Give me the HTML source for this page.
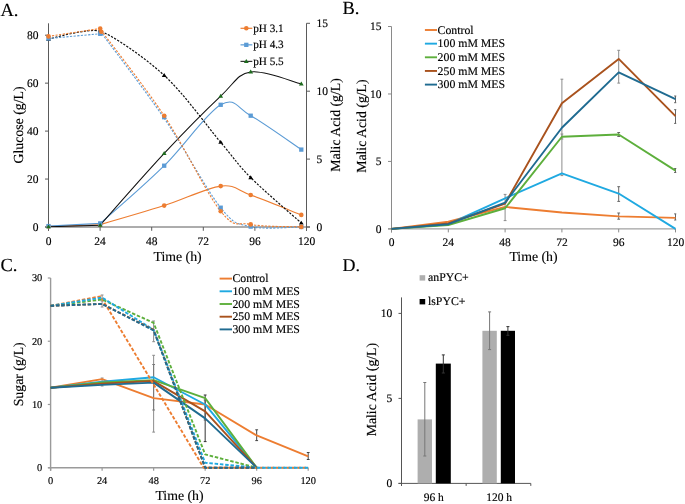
<!DOCTYPE html>
<html><head><meta charset="utf-8"><style>
html,body{margin:0;padding:0;background:#fff;width:685px;height:504px;overflow:hidden}
svg{display:block;font-family:"Liberation Serif", serif;will-change:transform;text-rendering:geometricPrecision}
text{stroke:#000;stroke-width:0.15px}
</style></head><body>
<svg width="685" height="504" viewBox="0 0 685 504">
<rect width="685" height="504" fill="#fff"/>
<text x="0.5" y="16.1" font-size="18.5" text-anchor="start" fill="#000" >A.</text>
<line x1="48.5" y1="23.3" x2="48.5" y2="230.8" stroke="#5a5a5a" stroke-width="1" />
<line x1="45" y1="227" x2="310" y2="227" stroke="#5a5a5a" stroke-width="1" />
<line x1="306.5" y1="23.3" x2="306.5" y2="230.8" stroke="#5a5a5a" stroke-width="1" />
<line x1="45" y1="227" x2="48.5" y2="227" stroke="#5a5a5a" stroke-width="1" />
<text x="38.4" y="230.9" font-size="11.5" text-anchor="end" fill="#000" >0</text>
<line x1="45" y1="179.05" x2="48.5" y2="179.05" stroke="#5a5a5a" stroke-width="1" />
<text x="38.4" y="182.95" font-size="11.5" text-anchor="end" fill="#000" >20</text>
<line x1="45" y1="131.1" x2="48.5" y2="131.1" stroke="#5a5a5a" stroke-width="1" />
<text x="38.4" y="135" font-size="11.5" text-anchor="end" fill="#000" >40</text>
<line x1="45" y1="83.15" x2="48.5" y2="83.15" stroke="#5a5a5a" stroke-width="1" />
<text x="38.4" y="87.05" font-size="11.5" text-anchor="end" fill="#000" >60</text>
<line x1="45" y1="35.2" x2="48.5" y2="35.2" stroke="#5a5a5a" stroke-width="1" />
<text x="38.4" y="39.1" font-size="11.5" text-anchor="end" fill="#000" >80</text>
<line x1="306.5" y1="227" x2="310" y2="227" stroke="#5a5a5a" stroke-width="1" />
<text x="316.4" y="230.7" font-size="11.5" text-anchor="start" fill="#000" >0</text>
<line x1="306.5" y1="159.1" x2="310" y2="159.1" stroke="#5a5a5a" stroke-width="1" />
<text x="316.4" y="162.8" font-size="11.5" text-anchor="start" fill="#000" >5</text>
<line x1="306.5" y1="91.2" x2="310" y2="91.2" stroke="#5a5a5a" stroke-width="1" />
<text x="316.4" y="94.9" font-size="11.5" text-anchor="start" fill="#000" >10</text>
<line x1="306.5" y1="23.3" x2="310" y2="23.3" stroke="#5a5a5a" stroke-width="1" />
<text x="316.4" y="27" font-size="11.5" text-anchor="start" fill="#000" >15</text>
<line x1="48.5" y1="227" x2="48.5" y2="230.8" stroke="#5a5a5a" stroke-width="1" />
<text x="48.5" y="244.5" font-size="11.5" text-anchor="middle" fill="#000" >0</text>
<line x1="100.1" y1="227" x2="100.1" y2="230.8" stroke="#5a5a5a" stroke-width="1" />
<text x="100.1" y="244.5" font-size="11.5" text-anchor="middle" fill="#000" >24</text>
<line x1="151.7" y1="227" x2="151.7" y2="230.8" stroke="#5a5a5a" stroke-width="1" />
<text x="151.7" y="244.5" font-size="11.5" text-anchor="middle" fill="#000" >48</text>
<line x1="203.3" y1="227" x2="203.3" y2="230.8" stroke="#5a5a5a" stroke-width="1" />
<text x="203.3" y="244.5" font-size="11.5" text-anchor="middle" fill="#000" >72</text>
<line x1="254.9" y1="227" x2="254.9" y2="230.8" stroke="#5a5a5a" stroke-width="1" />
<text x="254.9" y="244.5" font-size="11.5" text-anchor="middle" fill="#000" >96</text>
<line x1="306.5" y1="227" x2="306.5" y2="230.8" stroke="#5a5a5a" stroke-width="1" />
<text x="306.5" y="244.5" font-size="11.5" text-anchor="middle" fill="#000" >120</text>
<text x="177.6" y="261" font-size="13.8" text-anchor="middle" fill="#000" >Time (h)</text>
<text transform="translate(22.7,125) rotate(-90)" x="0" y="0" font-size="13.8" text-anchor="middle" fill="#000">Glucose (g/L)</text>
<text transform="translate(339.8,124.9) rotate(-90)" x="0" y="0" font-size="13.8" text-anchor="middle" fill="#000">Malic Acid (g/L)</text>
<clipPath id="ca"><rect x="48.5" y="23" width="258" height="204"/></clipPath>
<path d="M48.5,226.5 C48.5,226.5 100.2,224.6 100.2,224.6 C100.2,224.6 144.12,212.02 164.2,205.6 C184.28,199.18 206.28,187.87 220.7,186.1 C235.12,184.33 237.27,190.2 250.7,195 C264.13,199.8 292.87,211.58 301.3,214.9" fill="none" stroke="#ED7D31" stroke-width="1.1"  clip-path="url(#ca)"/>
<path d="M48.5,226.1 C48.5,226.1 100.2,223.4 100.2,223.4 C100.2,223.4 144.12,185.47 164.2,165.7 C184.28,145.93 206.28,113.13 220.7,104.8 C235.12,96.47 237.27,108.23 250.7,115.7 C264.13,123.17 292.87,143.95 301.3,149.6" fill="none" stroke="#5B9BD5" stroke-width="1.1"  clip-path="url(#ca)"/>
<path d="M48.5,226.8 C48.5,226.8 100.2,225.2 100.2,225.2 C100.2,225.2 144.12,174.92 164.2,153.4 C184.28,131.88 206.28,109.68 220.7,96.1 C235.12,82.52 237.27,73.93 250.7,71.9 C264.13,69.87 292.87,81.9 301.3,83.9" fill="none" stroke="#111" stroke-width="1.05"  clip-path="url(#ca)"/>
<path d="M48.5,39.2 C48.5,39.2 88.63,27.58 100.2,31.2 C111.77,34.82 144.12,56.88 164.2,75.4 C184.28,93.92 206.28,125.27 220.7,142.3 C235.12,159.33 237.27,164.15 250.7,177.6 C264.13,191.05 292.87,215.43 301.3,223" fill="none" stroke="#111" stroke-width="1.2" stroke-dasharray="2.2,1.4" />
<path d="M48.5,38.5 C48.5,38.5 101.8,33.6 101.8,33.6 C101.8,33.6 144.38,89.28 164.2,118.3 C184.02,147.32 206.28,189.65 220.7,207.7 C235.12,225.75 237.27,223.38 250.7,226.6 C264.13,229.82 292.87,226.93 301.3,227" fill="none" stroke="#5B9BD5" stroke-width="1.1" stroke-dasharray="2.2,1.4" />
<path d="M48.5,36.4 C48.5,36.4 99.8,28.6 99.8,28.6 C99.8,28.6 101.6,31.3 101.6,31.3 C101.6,31.3 144.25,85.7 164.1,115.7 C183.95,145.7 206.27,193.18 220.7,211.3 C235.13,229.42 237.27,221.8 250.7,224.4 C264.13,227 292.87,226.48 301.3,226.9" fill="none" stroke="#ED7D31" stroke-width="1.1" stroke-dasharray="2.2,1.4" />
<circle cx="48.5" cy="226.5" r="2.3" fill="#ED7D31"/>
<circle cx="100.2" cy="224.6" r="2.3" fill="#ED7D31"/>
<circle cx="164.2" cy="205.6" r="2.3" fill="#ED7D31"/>
<circle cx="220.7" cy="186.1" r="2.3" fill="#ED7D31"/>
<circle cx="250.7" cy="195" r="2.3" fill="#ED7D31"/>
<circle cx="301.3" cy="214.9" r="2.3" fill="#ED7D31"/>
<rect x="46.35" y="223.95" width="4.3" height="4.3" fill="#5B9BD5"/>
<rect x="98.05" y="221.25" width="4.3" height="4.3" fill="#5B9BD5"/>
<rect x="162.05" y="163.55" width="4.3" height="4.3" fill="#5B9BD5"/>
<rect x="218.55" y="102.65" width="4.3" height="4.3" fill="#5B9BD5"/>
<rect x="248.55" y="113.55" width="4.3" height="4.3" fill="#5B9BD5"/>
<rect x="299.15" y="147.45" width="4.3" height="4.3" fill="#5B9BD5"/>
<polygon points="48.5,224.5 46.1,228.34 50.9,228.34" fill="#1E6B1E"/>
<polygon points="100.2,222.9 97.8,226.74 102.6,226.74" fill="#1E6B1E"/>
<polygon points="164.2,151.1 161.8,154.94 166.6,154.94" fill="#1E6B1E"/>
<polygon points="220.7,93.8 218.3,97.64 223.1,97.64" fill="#1E6B1E"/>
<polygon points="250.7,69.6 248.3,73.44 253.1,73.44" fill="#1E6B1E"/>
<polygon points="301.3,81.6 298.9,85.44 303.7,85.44" fill="#1E6B1E"/>
<polygon points="48.5,36.9 46.1,40.74 50.9,40.74" fill="#000"/>
<polygon points="100.2,28.9 97.8,32.74 102.6,32.74" fill="#000"/>
<polygon points="164.2,73.1 161.8,76.94 166.6,76.94" fill="#000"/>
<polygon points="220.7,140 218.3,143.84 223.1,143.84" fill="#000"/>
<polygon points="250.7,175.3 248.3,179.14 253.1,179.14" fill="#000"/>
<polygon points="301.3,220.7 298.9,224.54 303.7,224.54" fill="#000"/>
<rect x="46.35" y="36.35" width="4.3" height="4.3" fill="#5B9BD5"/>
<rect x="98.05" y="31.65" width="4.3" height="4.3" fill="#5B9BD5"/>
<rect x="162.05" y="115.05" width="4.3" height="4.3" fill="#5B9BD5"/>
<rect x="218.55" y="205.55" width="4.3" height="4.3" fill="#5B9BD5"/>
<rect x="248.55" y="224.45" width="4.3" height="4.3" fill="#5B9BD5"/>
<rect x="299.15" y="224.85" width="4.3" height="4.3" fill="#5B9BD5"/>
<circle cx="48.5" cy="36.4" r="2.3" fill="#ED7D31"/>
<circle cx="100.2" cy="28.6" r="2.3" fill="#ED7D31"/>
<circle cx="164.2" cy="115.7" r="2.3" fill="#ED7D31"/>
<circle cx="220.7" cy="211.3" r="2.3" fill="#ED7D31"/>
<circle cx="250.7" cy="224.4" r="2.3" fill="#ED7D31"/>
<circle cx="301.3" cy="226.9" r="2.3" fill="#ED7D31"/>
<circle cx="101.3" cy="31.7" r="2.3" fill="#ED7D31"/>
<line x1="240.5" y1="28.3" x2="252.3" y2="28.3" stroke="#ED7D31" stroke-width="1.2" />
<circle cx="246.3" cy="28.3" r="2.3" fill="#ED7D31"/>
<text x="253.2" y="31.7" font-size="11.2" text-anchor="start" fill="#000" >pH 3.1</text>
<line x1="240.5" y1="44.85" x2="252.3" y2="44.85" stroke="#5B9BD5" stroke-width="1.2" />
<rect x="244.15" y="42.7" width="4.3" height="4.3" fill="#5B9BD5"/>
<text x="253.2" y="48.25" font-size="11.2" text-anchor="start" fill="#000" >pH 4.3</text>
<line x1="240.5" y1="61.4" x2="252.3" y2="61.4" stroke="#333" stroke-width="1.2" />
<polygon points="246.3,59.1 243.9,62.94 248.7,62.94" fill="#1E6B1E"/>
<text x="253.2" y="64.8" font-size="11.2" text-anchor="start" fill="#000" >pH 5.5</text>
<text x="342.5" y="13.6" font-size="18.5" text-anchor="start" fill="#000" >B.</text>
<line x1="391.5" y1="26.5" x2="391.5" y2="232.4" stroke="#8a8a8a" stroke-width="1" />
<line x1="388" y1="228.9" x2="675.5" y2="228.9" stroke="#8a8a8a" stroke-width="1" />
<line x1="388" y1="228.9" x2="391.5" y2="228.9" stroke="#8a8a8a" stroke-width="1" />
<text x="381.4" y="232.8" font-size="11.5" text-anchor="end" fill="#000" >0</text>
<line x1="388" y1="161.43" x2="391.5" y2="161.43" stroke="#8a8a8a" stroke-width="1" />
<text x="381.4" y="165.33" font-size="11.5" text-anchor="end" fill="#000" >5</text>
<line x1="388" y1="93.97" x2="391.5" y2="93.97" stroke="#8a8a8a" stroke-width="1" />
<text x="381.4" y="97.87" font-size="11.5" text-anchor="end" fill="#000" >10</text>
<line x1="388" y1="26.5" x2="391.5" y2="26.5" stroke="#8a8a8a" stroke-width="1" />
<text x="381.4" y="30.4" font-size="11.5" text-anchor="end" fill="#000" >15</text>
<line x1="391.5" y1="228.9" x2="391.5" y2="232.4" stroke="#8a8a8a" stroke-width="1" />
<text x="391.5" y="246.4" font-size="11.5" text-anchor="middle" fill="#000" >0</text>
<line x1="448.3" y1="228.9" x2="448.3" y2="232.4" stroke="#8a8a8a" stroke-width="1" />
<text x="448.3" y="246.4" font-size="11.5" text-anchor="middle" fill="#000" >24</text>
<line x1="505.1" y1="228.9" x2="505.1" y2="232.4" stroke="#8a8a8a" stroke-width="1" />
<text x="505.1" y="246.4" font-size="11.5" text-anchor="middle" fill="#000" >48</text>
<line x1="561.9" y1="228.9" x2="561.9" y2="232.4" stroke="#8a8a8a" stroke-width="1" />
<text x="561.9" y="246.4" font-size="11.5" text-anchor="middle" fill="#000" >72</text>
<line x1="618.7" y1="228.9" x2="618.7" y2="232.4" stroke="#8a8a8a" stroke-width="1" />
<text x="618.7" y="246.4" font-size="11.5" text-anchor="middle" fill="#000" >96</text>
<line x1="675.5" y1="228.9" x2="675.5" y2="232.4" stroke="#8a8a8a" stroke-width="1" />
<text x="675.5" y="246.4" font-size="11.5" text-anchor="middle" fill="#000" >120</text>
<text x="533.5" y="261.2" font-size="13.8" text-anchor="middle" fill="#000" >Time (h)</text>
<text transform="translate(365.5,126.1) rotate(-90)" x="0" y="0" font-size="13.8" text-anchor="middle" fill="#000">Malic Acid (g/L)</text>
<clipPath id="cb"><rect x="380" y="0" width="296.3" height="240"/></clipPath><g clip-path="url(#cb)">
<line x1="505.1" y1="194.4" x2="505.1" y2="220.6" stroke="#8c8c8c" stroke-width="1" />
<line x1="503.7" y1="194.4" x2="506.5" y2="194.4" stroke="#8c8c8c" stroke-width="1" />
<line x1="503.7" y1="220.6" x2="506.5" y2="220.6" stroke="#8c8c8c" stroke-width="1" />
<line x1="561.9" y1="79.2" x2="561.9" y2="175.6" stroke="#8c8c8c" stroke-width="1" />
<line x1="560.5" y1="79.2" x2="563.3" y2="79.2" stroke="#8c8c8c" stroke-width="1" />
<line x1="560.5" y1="175.6" x2="563.3" y2="175.6" stroke="#8c8c8c" stroke-width="1" />
<line x1="618.7" y1="50.3" x2="618.7" y2="83.1" stroke="#8c8c8c" stroke-width="1" />
<line x1="617.3" y1="50.3" x2="620.1" y2="50.3" stroke="#8c8c8c" stroke-width="1" />
<line x1="617.3" y1="83.1" x2="620.1" y2="83.1" stroke="#8c8c8c" stroke-width="1" />
<line x1="618.7" y1="186.7" x2="618.7" y2="201.4" stroke="#666" stroke-width="1" />
<line x1="617.3" y1="186.7" x2="620.1" y2="186.7" stroke="#666" stroke-width="1" />
<line x1="617.3" y1="201.4" x2="620.1" y2="201.4" stroke="#666" stroke-width="1" />
<line x1="618.7" y1="213" x2="618.7" y2="219.2" stroke="#666" stroke-width="1" />
<line x1="617.3" y1="213" x2="620.1" y2="213" stroke="#666" stroke-width="1" />
<line x1="617.3" y1="219.2" x2="620.1" y2="219.2" stroke="#666" stroke-width="1" />
<line x1="618.7" y1="132.5" x2="618.7" y2="136.5" stroke="#666" stroke-width="1" />
<line x1="617.3" y1="132.5" x2="620.1" y2="132.5" stroke="#666" stroke-width="1" />
<line x1="617.3" y1="136.5" x2="620.1" y2="136.5" stroke="#666" stroke-width="1" />
<line x1="675.5" y1="213.9" x2="675.5" y2="220" stroke="#666" stroke-width="1" />
<line x1="674.1" y1="213.9" x2="676.9" y2="213.9" stroke="#666" stroke-width="1" />
<line x1="674.1" y1="220" x2="676.9" y2="220" stroke="#666" stroke-width="1" />
<line x1="675.5" y1="96" x2="675.5" y2="102.7" stroke="#666" stroke-width="1" />
<line x1="674.1" y1="96" x2="676.9" y2="96" stroke="#666" stroke-width="1" />
<line x1="674.1" y1="102.7" x2="676.9" y2="102.7" stroke="#666" stroke-width="1" />
<line x1="675.5" y1="109.7" x2="675.5" y2="123.4" stroke="#666" stroke-width="1" />
<line x1="674.1" y1="109.7" x2="676.9" y2="109.7" stroke="#666" stroke-width="1" />
<line x1="674.1" y1="123.4" x2="676.9" y2="123.4" stroke="#666" stroke-width="1" />
<line x1="675.5" y1="168.5" x2="675.5" y2="172.5" stroke="#666" stroke-width="1" />
<line x1="674.1" y1="168.5" x2="676.9" y2="168.5" stroke="#666" stroke-width="1" />
<line x1="674.1" y1="172.5" x2="676.9" y2="172.5" stroke="#666" stroke-width="1" />
<line x1="561.9" y1="134" x2="561.9" y2="139" stroke="#8c8c8c" stroke-width="1" />
<line x1="560.5" y1="134" x2="563.3" y2="134" stroke="#8c8c8c" stroke-width="1" />
<line x1="560.5" y1="139" x2="563.3" y2="139" stroke="#8c8c8c" stroke-width="1" />
</g>
<polyline points="391.5,228.9 448.3,221.75 505.1,206.91 561.9,212.57 618.7,216.35 675.5,217.84" fill="none" stroke="#ED7D31" stroke-width="1.9" stroke-linejoin="round"  />
<polyline points="391.5,228.9 448.3,224.18 505.1,198.27 561.9,173.31 618.7,193.55 675.5,228.9" fill="none" stroke="#1FA9E1" stroke-width="1.9" stroke-linejoin="round"  />
<polyline points="391.5,228.9 448.3,224.99 505.1,208.26 561.9,136.74 618.7,134.45 675.5,170.61" fill="none" stroke="#5DAF3C" stroke-width="1.9" stroke-linejoin="round"  />
<polyline points="391.5,228.9 448.3,223.5 505.1,203.53 561.9,103.28 618.7,58.88 675.5,116.1" fill="none" stroke="#A9521D" stroke-width="1.9" stroke-linejoin="round"  />
<polyline points="391.5,228.9 448.3,224.18 505.1,202.59 561.9,127.7 618.7,72.38 675.5,99.09" fill="none" stroke="#1F6B91" stroke-width="1.9" stroke-linejoin="round"  />
<line x1="424.9" y1="30" x2="437" y2="30" stroke="#ED7D31" stroke-width="1.9" />
<text x="437.6" y="33.7" font-size="11.8" text-anchor="start" fill="#000" >Control</text>
<line x1="424.9" y1="43.65" x2="437" y2="43.65" stroke="#1FA9E1" stroke-width="1.9" />
<text x="437.6" y="47.35" font-size="11.8" text-anchor="start" fill="#000" >100 mM MES</text>
<line x1="424.9" y1="57.3" x2="437" y2="57.3" stroke="#5DAF3C" stroke-width="1.9" />
<text x="437.6" y="61" font-size="11.8" text-anchor="start" fill="#000" >200 mM MES</text>
<line x1="424.9" y1="70.95" x2="437" y2="70.95" stroke="#A9521D" stroke-width="1.9" />
<text x="437.6" y="74.65" font-size="11.8" text-anchor="start" fill="#000" >250 mM MES</text>
<line x1="424.9" y1="84.6" x2="437" y2="84.6" stroke="#1F6B91" stroke-width="1.9" />
<text x="437.6" y="88.3" font-size="11.8" text-anchor="start" fill="#000" >300 mM MES</text>
<text x="0.5" y="271.2" font-size="18.5" text-anchor="start" fill="#000" >C.</text>
<line x1="50.6" y1="278" x2="50.6" y2="470.7" stroke="#9a9a9a" stroke-width="1.4" />
<line x1="48.1" y1="467.7" x2="308.2" y2="467.7" stroke="#9a9a9a" stroke-width="1.6" />
<line x1="47.8" y1="467.7" x2="50.6" y2="467.7" stroke="#9a9a9a" stroke-width="1.2" />
<text x="42.3" y="471.2" font-size="10.4" text-anchor="end" fill="#000" >0</text>
<line x1="47.8" y1="404.47" x2="50.6" y2="404.47" stroke="#9a9a9a" stroke-width="1.2" />
<text x="42.3" y="407.97" font-size="10.4" text-anchor="end" fill="#000" >10</text>
<line x1="47.8" y1="341.23" x2="50.6" y2="341.23" stroke="#9a9a9a" stroke-width="1.2" />
<text x="42.3" y="344.73" font-size="10.4" text-anchor="end" fill="#000" >20</text>
<line x1="47.8" y1="278" x2="50.6" y2="278" stroke="#9a9a9a" stroke-width="1.2" />
<text x="42.3" y="280.5" font-size="10.4" text-anchor="end" fill="#000" >30</text>
<line x1="50.6" y1="467.7" x2="50.6" y2="470.7" stroke="#9a9a9a" stroke-width="1.2" />
<text x="50.6" y="483.7" font-size="10.4" text-anchor="middle" fill="#000" >0</text>
<line x1="102.12" y1="467.7" x2="102.12" y2="470.7" stroke="#9a9a9a" stroke-width="1.2" />
<text x="102.12" y="483.7" font-size="10.4" text-anchor="middle" fill="#000" >24</text>
<line x1="153.64" y1="467.7" x2="153.64" y2="470.7" stroke="#9a9a9a" stroke-width="1.2" />
<text x="153.64" y="483.7" font-size="10.4" text-anchor="middle" fill="#000" >48</text>
<line x1="205.16" y1="467.7" x2="205.16" y2="470.7" stroke="#9a9a9a" stroke-width="1.2" />
<text x="205.16" y="483.7" font-size="10.4" text-anchor="middle" fill="#000" >72</text>
<line x1="256.68" y1="467.7" x2="256.68" y2="470.7" stroke="#9a9a9a" stroke-width="1.2" />
<text x="256.68" y="483.7" font-size="10.4" text-anchor="middle" fill="#000" >96</text>
<line x1="308.2" y1="467.7" x2="308.2" y2="470.7" stroke="#9a9a9a" stroke-width="1.2" />
<text x="308.2" y="483.7" font-size="10.4" text-anchor="middle" fill="#000" >120</text>
<text x="179.5" y="500.1" font-size="13.8" text-anchor="middle" fill="#000" >Time (h)</text>
<text transform="translate(22.9,374.3) rotate(-90)" x="0" y="0" font-size="13.8" text-anchor="middle" fill="#000">Sugar (g/L)</text>
<line x1="102.12" y1="295" x2="102.12" y2="300" stroke="#8c8c8c" stroke-width="1" />
<line x1="100.72" y1="295" x2="103.52" y2="295" stroke="#8c8c8c" stroke-width="1" />
<line x1="100.72" y1="300" x2="103.52" y2="300" stroke="#8c8c8c" stroke-width="1" />
<line x1="102.12" y1="301" x2="102.12" y2="307" stroke="#8c8c8c" stroke-width="1" />
<line x1="100.72" y1="301" x2="103.52" y2="301" stroke="#8c8c8c" stroke-width="1" />
<line x1="100.72" y1="307" x2="103.52" y2="307" stroke="#8c8c8c" stroke-width="1" />
<line x1="153.64" y1="321" x2="153.64" y2="341.7" stroke="#8c8c8c" stroke-width="1" />
<line x1="152.24" y1="321" x2="155.04" y2="321" stroke="#8c8c8c" stroke-width="1" />
<line x1="152.24" y1="341.7" x2="155.04" y2="341.7" stroke="#8c8c8c" stroke-width="1" />
<line x1="153.64" y1="355.3" x2="153.64" y2="432.1" stroke="#8c8c8c" stroke-width="1" />
<line x1="152.24" y1="355.3" x2="155.04" y2="355.3" stroke="#8c8c8c" stroke-width="1" />
<line x1="152.24" y1="432.1" x2="155.04" y2="432.1" stroke="#8c8c8c" stroke-width="1" />
<line x1="153.64" y1="364.5" x2="153.64" y2="410" stroke="#777" stroke-width="1" />
<line x1="152.24" y1="364.5" x2="155.04" y2="364.5" stroke="#777" stroke-width="1" />
<line x1="152.24" y1="410" x2="155.04" y2="410" stroke="#777" stroke-width="1" />
<line x1="205.16" y1="395" x2="205.16" y2="441.6" stroke="#333" stroke-width="1" />
<line x1="203.76" y1="395" x2="206.56" y2="395" stroke="#333" stroke-width="1" />
<line x1="203.76" y1="441.6" x2="206.56" y2="441.6" stroke="#333" stroke-width="1" />
<line x1="205.16" y1="400" x2="205.16" y2="420" stroke="#555" stroke-width="1" />
<line x1="203.76" y1="400" x2="206.56" y2="400" stroke="#555" stroke-width="1" />
<line x1="203.76" y1="420" x2="206.56" y2="420" stroke="#555" stroke-width="1" />
<line x1="256.68" y1="429.8" x2="256.68" y2="440.6" stroke="#444" stroke-width="1" />
<line x1="255.28" y1="429.8" x2="258.08" y2="429.8" stroke="#444" stroke-width="1" />
<line x1="255.28" y1="440.6" x2="258.08" y2="440.6" stroke="#444" stroke-width="1" />
<line x1="308.2" y1="452.5" x2="308.2" y2="459.5" stroke="#444" stroke-width="1" />
<line x1="306.8" y1="452.5" x2="309.6" y2="452.5" stroke="#444" stroke-width="1" />
<line x1="306.8" y1="459.5" x2="309.6" y2="459.5" stroke="#444" stroke-width="1" />
<line x1="102.12" y1="378" x2="102.12" y2="386" stroke="#8c8c8c" stroke-width="1" />
<line x1="100.72" y1="378" x2="103.52" y2="378" stroke="#8c8c8c" stroke-width="1" />
<line x1="100.72" y1="386" x2="103.52" y2="386" stroke="#8c8c8c" stroke-width="1" />
<polyline points="50.6,387.71 102.12,379.17 153.64,398.14 205.16,404.47 256.68,435.45 308.2,456.32" fill="none" stroke="#ED7D31" stroke-width="1.9" stroke-linejoin="round"  />
<polyline points="50.6,387.71 102.12,381.7 153.64,377.28 205.16,404.47 256.68,467.7" fill="none" stroke="#1FA9E1" stroke-width="1.9" stroke-linejoin="round"  />
<polyline points="50.6,387.71 102.12,382.33 153.64,380.12 205.16,398.14 256.68,467.7" fill="none" stroke="#5DAF3C" stroke-width="1.9" stroke-linejoin="round"  />
<polyline points="50.6,387.71 102.12,383.6 153.64,381.07 205.16,411.42 256.68,467.7" fill="none" stroke="#A9521D" stroke-width="1.9" stroke-linejoin="round"  />
<polyline points="50.6,387.71 102.12,384.86 153.64,382.65 205.16,418.38 256.68,467.7" fill="none" stroke="#1F6B91" stroke-width="1.9" stroke-linejoin="round"  />
<polyline points="50.6,305.82 100.62,296.34 203.66,467.7 256.68,467.7 308.2,467.7" fill="none" stroke="#ED7D31" stroke-width="1.9" stroke-linejoin="round" stroke-dasharray="3.5,1.8" />
<polyline points="50.6,305.82 102.12,299.5 153.64,322.9 205.16,454.42 256.68,467.7" fill="none" stroke="#5DAF3C" stroke-width="1.9" stroke-linejoin="round" stroke-dasharray="3.5,1.8" />
<polyline points="50.6,305.82 102.12,297.6 153.64,329.85 205.16,462.77 256.68,467.7 308.2,467.7" fill="none" stroke="#1FA9E1" stroke-width="1.9" stroke-linejoin="round" stroke-dasharray="3.5,1.8" />
<polyline points="50.6,305.82 102.12,303.93 153.64,329.85 205.16,467.7 256.68,467.7" fill="none" stroke="#A9521D" stroke-width="1.9" stroke-linejoin="round" stroke-dasharray="3.5,1.8" />
<polyline points="50.6,305.82 102.12,303.93 153.64,330.48 205.16,467.7 256.68,467.7" fill="none" stroke="#1F6B91" stroke-width="1.9" stroke-linejoin="round" stroke-dasharray="3.5,1.8" />
<line x1="219.6" y1="278.6" x2="232" y2="278.6" stroke="#ED7D31" stroke-width="1.9" />
<text x="232.4" y="282.3" font-size="11.8" text-anchor="start" fill="#000" >Control</text>
<line x1="219.6" y1="291.3" x2="232" y2="291.3" stroke="#1FA9E1" stroke-width="1.9" />
<text x="232.4" y="295" font-size="11.8" text-anchor="start" fill="#000" >100 mM MES</text>
<line x1="219.6" y1="304" x2="232" y2="304" stroke="#5DAF3C" stroke-width="1.9" />
<text x="232.4" y="307.7" font-size="11.8" text-anchor="start" fill="#000" >200 mM MES</text>
<line x1="219.6" y1="316.7" x2="232" y2="316.7" stroke="#A9521D" stroke-width="1.9" />
<text x="232.4" y="320.4" font-size="11.8" text-anchor="start" fill="#000" >250 mM MES</text>
<line x1="219.6" y1="329.4" x2="232" y2="329.4" stroke="#1F6B91" stroke-width="1.9" />
<text x="232.4" y="333.1" font-size="11.8" text-anchor="start" fill="#000" >300 mM MES</text>
<text x="342.5" y="270.8" font-size="18" text-anchor="start" fill="#000" >D.</text>
<line x1="401.5" y1="297.4" x2="401.5" y2="485.9" stroke="#555" stroke-width="1" />
<line x1="398.5" y1="483.4" x2="530.8" y2="483.4" stroke="#555" stroke-width="1" />
<line x1="398.5" y1="483.4" x2="401.5" y2="483.4" stroke="#555" stroke-width="1" />
<text x="392.2" y="487.2" font-size="11.5" text-anchor="end" fill="#000" >0</text>
<line x1="398.5" y1="398.4" x2="401.5" y2="398.4" stroke="#555" stroke-width="1" />
<text x="392.2" y="402.2" font-size="11.5" text-anchor="end" fill="#000" >5</text>
<line x1="398.5" y1="313.4" x2="401.5" y2="313.4" stroke="#555" stroke-width="1" />
<text x="392.2" y="317.2" font-size="11.5" text-anchor="end" fill="#000" >10</text>
<line x1="401.5" y1="483.4" x2="401.5" y2="485.9" stroke="#555" stroke-width="1" />
<line x1="466.15" y1="483.4" x2="466.15" y2="485.9" stroke="#555" stroke-width="1" />
<line x1="530.8" y1="483.4" x2="530.8" y2="485.9" stroke="#555" stroke-width="1" />
<text x="433.7" y="500.6" font-size="11.5" text-anchor="middle" fill="#000" >96 h</text>
<text x="499.1" y="500.6" font-size="11.5" text-anchor="middle" fill="#000" >120 h</text>
<text transform="translate(375.5,389.6) rotate(-90)" x="0" y="0" font-size="13.8" text-anchor="middle" fill="#000">Malic Acid (g/L)</text>
<rect x="417.6" y="419.4" width="14.4" height="64" fill="#AEAEAE"/>
<rect x="435.8" y="363.6" width="15" height="119.8" fill="#000"/>
<rect x="482.4" y="330.8" width="14.4" height="152.6" fill="#AEAEAE"/>
<rect x="500.8" y="330.8" width="14.2" height="152.6" fill="#000"/>
<line x1="424.8" y1="382.5" x2="424.8" y2="456" stroke="#777" stroke-width="1" />
<line x1="423.3" y1="382.5" x2="426.3" y2="382.5" stroke="#777" stroke-width="1" />
<line x1="423.3" y1="456" x2="426.3" y2="456" stroke="#777" stroke-width="1" />
<line x1="443.3" y1="354.9" x2="443.3" y2="373" stroke="#333" stroke-width="1" />
<line x1="441.8" y1="354.9" x2="444.8" y2="354.9" stroke="#333" stroke-width="1" />
<line x1="441.8" y1="373" x2="444.8" y2="373" stroke="#333" stroke-width="1" />
<line x1="489.6" y1="311.9" x2="489.6" y2="349.6" stroke="#777" stroke-width="1" />
<line x1="488.1" y1="311.9" x2="491.1" y2="311.9" stroke="#777" stroke-width="1" />
<line x1="488.1" y1="349.6" x2="491.1" y2="349.6" stroke="#777" stroke-width="1" />
<line x1="507.9" y1="326.6" x2="507.9" y2="335.3" stroke="#333" stroke-width="1" />
<line x1="506.4" y1="326.6" x2="509.4" y2="326.6" stroke="#333" stroke-width="1" />
<line x1="506.4" y1="335.3" x2="509.4" y2="335.3" stroke="#333" stroke-width="1" />
<rect x="419.6" y="275.2" width="5.6" height="5.4" fill="#AEAEAE"/>
<rect x="419.6" y="299" width="5.6" height="5.4" fill="#000"/>
<text x="428" y="281" font-size="11.8" text-anchor="start" fill="#000" >anPYC+</text>
<text x="428" y="304.7" font-size="11.8" text-anchor="start" fill="#000" >lsPYC+</text>
</svg>
</body></html>
